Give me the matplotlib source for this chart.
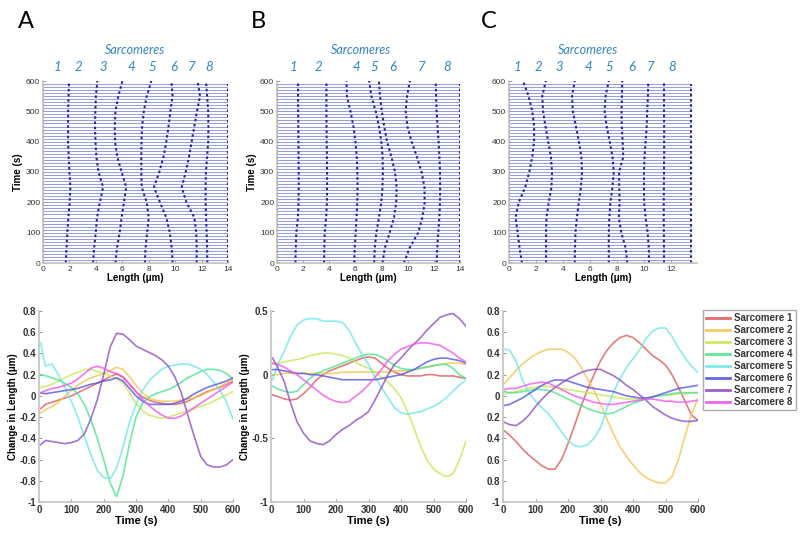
import numpy as np
import matplotlib
matplotlib.use("Agg")
import matplotlib.pyplot as plt

plt.rcParams['font.family'] = ['Liberation Sans', 'DejaVu Sans']

# Z-disc positions (um) read every 50 s
zt = [0, 50, 100, 150, 200, 250, 300, 350, 400, 450, 500, 550, 600]

a_z1 = [1.72, 1.78, 1.84, 1.92, 2.02, 2.07, 2.0, 1.94, 1.9, 1.9, 1.9, 1.93, 1.97]
a_z2 = [3.79, 3.87, 3.99, 4.09, 4.3, 4.55, 4.2, 4.04, 3.97, 3.93, 3.96, 4.0, 4.12]
a_z3 = [5.48, 5.6, 5.8, 5.95, 6.12, 6.3, 5.95, 5.62, 5.45, 5.43, 5.48, 5.7, 6.01]
a_z4 = [7.71, 7.76, 7.88, 8.0, 7.85, 7.47, 7.44, 7.44, 7.45, 7.5, 7.63, 7.85, 8.2]
a_z5 = [9.81, 9.74, 9.6, 9.33, 8.85, 8.4, 8.8, 9.12, 9.33, 9.5, 9.64, 9.8, 9.72]
a_z6 = [11.63, 11.63, 11.6, 11.45, 10.85, 10.5, 10.8, 11.05, 11.25, 11.45, 11.65, 11.88, 11.7]
a_z7 = [12.43, 12.42, 12.38, 12.34, 12.31, 12.3, 12.33, 12.42, 12.5, 12.52, 12.5, 12.42, 12.33]

b_z1 = [1.41, 1.43, 1.48, 1.6, 1.65, 1.66, 1.66, 1.65, 1.64, 1.63, 1.62, 1.61, 1.61]
b_z2 = [3.6, 3.62, 3.65, 3.76, 3.82, 3.83, 3.83, 3.82, 3.8, 3.79, 3.78, 3.78, 3.78]
b_z3 = [5.9, 5.95, 6.02, 6.08, 6.14, 6.16, 6.15, 6.1, 6.0, 5.85, 5.62, 5.35, 5.32]
b_z4 = [7.43, 7.48, 7.6, 7.8, 7.98, 8.07, 8.1, 8.08, 7.98, 7.8, 7.55, 7.22, 7.05]
b_z5 = [8.07, 8.25, 8.62, 8.95, 9.12, 9.15, 9.03, 8.75, 8.42, 8.2, 8.02, 7.88, 7.8]
b_z6 = [9.71, 10.15, 10.8, 11.12, 11.3, 11.28, 11.06, 10.7, 10.3, 9.98, 9.84, 9.95, 10.17]
b_z7 = [12.21, 12.26, 12.34, 12.42, 12.47, 12.48, 12.47, 12.42, 12.36, 12.28, 12.21, 12.17, 12.14]

c_z1 = [0.96, 0.78, 0.64, 0.48, 0.72, 1.2, 1.5, 1.72, 1.85, 1.86, 1.72, 1.45, 1.04]
c_z2 = [2.74, 2.74, 2.74, 2.77, 2.94, 3.14, 3.18, 3.1, 2.9, 2.7, 2.52, 2.46, 2.72]
c_z3 = [4.86, 4.88, 4.91, 5.02, 5.16, 5.32, 5.4, 5.35, 5.17, 4.95, 4.72, 4.66, 4.86]
c_z4 = [7.38, 7.38, 7.38, 7.42, 7.5, 7.65, 7.75, 7.65, 7.45, 7.22, 7.07, 7.14, 7.38]
c_z5 = [8.74, 8.62, 8.3, 8.12, 8.18, 8.15, 8.14, 8.45, 8.4, 8.34, 8.32, 8.35, 8.37]
c_z6 = [10.35, 10.34, 10.25, 10.1, 9.99, 9.98, 9.98, 10.02, 10.1, 10.18, 10.22, 10.27, 10.3]
c_z7 = [11.46, 11.46, 11.45, 11.44, 11.44, 11.45, 11.46, 11.47, 11.47, 11.47, 11.46, 11.46, 11.46]

a_edges = [0, 14]
b_edges = [0, 14]
c_edges = [0, 13.48]

# labels above each top panel
a_nums = ['1', '2', '3', '4', '5', '6', '7', '8']
b_nums = ['1', '2', '4', '5', '6', '7', '8']
c_nums = ['1', '2', '3', '4', '5', '6', '7', '8']

# change in sarcomere length (um)
t = [5, 20, 40, 60, 80, 100, 120, 140, 160, 180, 200, 220, 240, 260, 280, 300,
     320, 340, 360, 380, 400, 420, 440, 460, 480, 500, 520, 540, 560, 580, 600]

a_s1 = [-0.12, -0.08, -0.06, -0.04, -0.02, 0.0, 0.03, 0.06, 0.09, 0.12, 0.15, 0.18, 0.21, 0.18, 0.11, 0.04,
        -0.01, -0.04, -0.06, -0.07, -0.08, -0.08, -0.07, -0.05, -0.02, 0.01, 0.04, 0.06, 0.08, 0.11, 0.14]
a_s2 = [-0.16, -0.13, -0.1, -0.06, 0.0, 0.05, 0.1, 0.14, 0.17, 0.19, 0.21, 0.24, 0.27, 0.25, 0.18, 0.1,
        0.03, -0.02, -0.04, -0.05, -0.05, -0.05, -0.04, -0.03, -0.02, 0.0, 0.03, 0.06, 0.09, 0.12, 0.15]
a_s3 = [0.08, 0.09, 0.11, 0.14, 0.17, 0.2, 0.22, 0.25, 0.25, 0.23, 0.21, 0.19, 0.16, 0.12, 0.03, -0.07,
        -0.14, -0.18, -0.2, -0.21, -0.2, -0.18, -0.16, -0.14, -0.12, -0.1, -0.08, -0.05, -0.02, 0.01, 0.04]
a_s4 = [0.2, 0.19, 0.17, 0.15, 0.12, 0.08, 0.02, -0.08, -0.22, -0.4, -0.6, -0.82, -0.95, -0.75, -0.45, -0.2,
        -0.07, -0.01, 0.02, 0.04, 0.06, 0.09, 0.13, 0.17, 0.2, 0.23, 0.25, 0.25, 0.24, 0.21, 0.16]
a_s5 = [0.5, 0.28, 0.3, 0.2, 0.08, -0.05, -0.2, -0.38, -0.55, -0.7, -0.77, -0.78, -0.68, -0.48, -0.25, -0.08,
        0.05, 0.14, 0.2, 0.25, 0.28, 0.29, 0.3, 0.3, 0.28, 0.25, 0.2, 0.13, 0.05, -0.06, -0.22]
a_s6 = [0.03, 0.02, 0.03, 0.04, 0.05, 0.06, 0.07, 0.09, 0.11, 0.12, 0.14, 0.15, 0.17, 0.14, 0.07, 0.0,
        -0.05, -0.08, -0.08, -0.08, -0.08, -0.07, -0.05, -0.02, 0.02, 0.05, 0.08, 0.1, 0.12, 0.14, 0.17]
a_s7 = [-0.46, -0.42, -0.43, -0.44, -0.45, -0.44, -0.42, -0.36, -0.22, -0.04, 0.2, 0.46, 0.59, 0.58, 0.53, 0.47,
        0.44, 0.41, 0.38, 0.34, 0.28, 0.18, 0.03, -0.18, -0.38, -0.57, -0.65, -0.67, -0.67, -0.65, -0.6]
a_s8 = [0.03, 0.05, 0.07, 0.08, 0.1, 0.12, 0.16, 0.21, 0.26, 0.28, 0.26, 0.23, 0.21, 0.17, 0.11, 0.04,
        -0.03, -0.09, -0.14, -0.18, -0.21, -0.21, -0.19, -0.15, -0.11, -0.07, -0.03, 0.01, 0.05, 0.09, 0.13]

b_s1 = [-0.16, -0.17, -0.19, -0.2, -0.19, -0.15, -0.1, -0.04, 0.0, 0.03, 0.05, 0.07, 0.09, 0.11, 0.13, 0.14,
        0.13, 0.09, 0.05, 0.02, 0.0, -0.01, -0.01, -0.01, 0.0, 0.0, -0.01, -0.01, -0.01, -0.02, -0.03]
b_s2 = [0.0, 0.0, 0.01, 0.01, 0.01, 0.01, 0.01, 0.01, 0.01, 0.01, 0.01, 0.02, 0.02, 0.02, 0.02, 0.02,
        0.02, 0.02, 0.02, 0.03, 0.03, 0.03, 0.04, 0.05, 0.06, 0.07, 0.08, 0.09, 0.09, 0.09, 0.08]
b_s3 = [0.08, 0.09, 0.1, 0.11, 0.12, 0.13, 0.15, 0.16, 0.17, 0.17, 0.16, 0.15, 0.13, 0.1, 0.07, 0.05,
        0.02, -0.02, -0.06, -0.11, -0.18, -0.29, -0.42, -0.56, -0.67, -0.74, -0.78, -0.8, -0.78, -0.67, -0.52]
b_s4 = [-0.09, -0.11, -0.13, -0.14, -0.13, -0.08, -0.03, 0.01, 0.03, 0.05, 0.07, 0.09, 0.11, 0.13, 0.15, 0.16,
        0.16, 0.14, 0.11, 0.07, 0.05, 0.04, 0.04, 0.05, 0.06, 0.07, 0.08, 0.08, 0.05, 0.0, -0.03]
b_s5 = [-0.04, 0.08, 0.18, 0.3, 0.39, 0.43, 0.44, 0.44, 0.42, 0.42, 0.42, 0.41, 0.35, 0.25, 0.16, 0.08,
        -0.02, -0.1, -0.18, -0.26, -0.3, -0.31, -0.3, -0.29, -0.27, -0.25, -0.22, -0.18, -0.13, -0.08, -0.04]
b_s6 = [0.04, 0.04, 0.03, 0.02, 0.01, 0.01, 0.0, 0.0, -0.01, -0.02, -0.03, -0.04, -0.04, -0.04, -0.04, -0.04,
        -0.04, -0.03, -0.02, -0.01, 0.0, 0.02, 0.04, 0.07, 0.1, 0.12, 0.13, 0.13, 0.12, 0.11, 0.09]
b_s7 = [0.13, 0.06, -0.05, -0.22, -0.37, -0.46, -0.52, -0.54, -0.55, -0.52, -0.47, -0.43, -0.4, -0.36, -0.33, -0.29,
        -0.2, -0.1, 0.0, 0.08, 0.13, 0.19, 0.24, 0.29, 0.35, 0.4, 0.45, 0.47, 0.48, 0.44, 0.38]
b_s8 = [0.09, 0.08, 0.06, 0.03, 0.0, -0.04, -0.08, -0.12, -0.16, -0.19, -0.21, -0.22, -0.21, -0.17, -0.13, -0.08,
        -0.02, 0.04, 0.11, 0.16, 0.2, 0.22, 0.24, 0.25, 0.25, 0.24, 0.23, 0.2, 0.17, 0.13, 0.1]

c_s1 = [-0.33, -0.37, -0.43, -0.5, -0.56, -0.61, -0.66, -0.69, -0.69, -0.6, -0.45, -0.28, -0.1, 0.06, 0.2, 0.33,
        0.43, 0.5, 0.55, 0.57, 0.55, 0.5, 0.44, 0.38, 0.34, 0.29, 0.2, 0.08, -0.05, -0.18, -0.23]
c_s2 = [0.12, 0.17, 0.24, 0.3, 0.35, 0.39, 0.42, 0.44, 0.44, 0.44, 0.41, 0.36, 0.27, 0.16, 0.05, -0.08,
        -0.22, -0.36, -0.48, -0.57, -0.65, -0.72, -0.77, -0.8, -0.82, -0.82, -0.76, -0.6, -0.38, -0.17, -0.03]
c_s3 = [0.02, 0.03, 0.04, 0.06, 0.07, 0.08, 0.09, 0.09, 0.08, 0.07, 0.06, 0.05, 0.04, 0.03, 0.02, 0.01,
        0.0, -0.01, -0.02, -0.03, -0.03, -0.03, -0.02, -0.01, 0.0, 0.01, 0.01, 0.02, 0.02, 0.03, 0.03]
c_s4 = [0.04, 0.03, 0.03, 0.04, 0.05, 0.06, 0.06, 0.05, 0.03, 0.0, -0.03, -0.06, -0.09, -0.12, -0.14, -0.16,
        -0.17, -0.16, -0.13, -0.1, -0.07, -0.05, -0.03, -0.01, 0.0, 0.01, 0.02, 0.03, 0.03, 0.03, 0.03]
c_s5 = [0.44, 0.43, 0.33, 0.15, 0.03, -0.05, -0.11, -0.17, -0.25, -0.34, -0.42, -0.47, -0.48, -0.46, -0.4, -0.3,
        -0.12, 0.04, 0.16, 0.27, 0.35, 0.43, 0.54, 0.61, 0.64, 0.64, 0.56, 0.45, 0.36, 0.28, 0.22]
c_s6 = [-0.09, -0.08, -0.05, -0.02, 0.02, 0.06, 0.1, 0.13, 0.15, 0.15, 0.14, 0.12, 0.1, 0.08, 0.07, 0.06,
        0.05, 0.04, 0.02, 0.0, -0.01, -0.02, -0.02, -0.01, 0.01, 0.03, 0.05, 0.07, 0.08, 0.09, 0.1]
c_s7 = [-0.25, -0.27, -0.28, -0.24, -0.18, -0.1, -0.03, 0.03, 0.08, 0.12, 0.16, 0.19, 0.22, 0.24, 0.25, 0.25,
        0.22, 0.19, 0.15, 0.1, 0.06, 0.01, -0.04, -0.1, -0.14, -0.18, -0.21, -0.23, -0.24, -0.24, -0.23]
c_s8 = [0.06, 0.07, 0.07, 0.09, 0.11, 0.12, 0.13, 0.12, 0.09, 0.06, 0.03, 0.0, -0.02, -0.04, -0.06, -0.07,
        -0.08, -0.08, -0.07, -0.06, -0.05, -0.04, -0.03, -0.03, -0.04, -0.05, -0.05, -0.06, -0.06, -0.05, -0.04]

legend_labels = ['Sarcomere %d' % (i + 1) for i in range(8)]
colors = ['#de5b5b', '#f3c552', '#c9e655', '#4ee38f', '#6fe6e6', '#5656e6', '#8e4fc2', '#ef55ef']

W, H = 800, 537
fig = plt.figure(figsize=(W / 100, H / 100), dpi=100)


def box(x0, y0, x1, y1):
    return [x0 / W, 1 - y1 / H, (x1 - x0) / W, (y1 - y0) / H]


def style(ax, size, bold):
    for s in ['top', 'right']:
        ax.spines[s].set_visible(False)
    for s in ['left', 'bottom']:
        ax.spines[s].set_color('#c4c4bc')
        ax.spines[s].set_linewidth(1.2)
    ax.tick_params(direction='in', length=2, width=0.6, color='#888888',
                   labelsize=size, labelcolor='#333333', pad=2)
    if bold:
        for lab in ax.get_xticklabels() + ax.get_yticklabels():
            lab.set_fontweight('bold')


# ---- top panels
tops = [
    (box(43, 81, 228, 263), [a_z1, a_z2, a_z3, a_z4, a_z5, a_z6, a_z7], a_edges, 14, range(0, 15, 2)),
    (box(277, 81, 460, 263), [b_z1, b_z2, b_z3, b_z4, b_z5, b_z6, b_z7], b_edges, 14, range(0, 15, 2)),
    (box(509, 81, 697, 263), [c_z1, c_z2, c_z3, c_z4, c_z5, c_z6, c_z7], c_edges, 13.9, range(0, 13, 2)),
]
rows = np.arange(0, 600, 10)
zline = dict(color='#24248f', linestyle=(0, (1.2, 1.3)), linewidth=1.5)
for i, (rect, zs, edges, xmax, xt) in enumerate(tops):
    ax = fig.add_axes(rect)
    ax.hlines(rows, edges[0], edges[1], color='#9a9ee2', linewidth=0.75)
    for e in edges:
        ax.plot([e, e], [0, 590], **zline)
    for z in zs:
        ax.plot(z, zt, **zline)
    ax.set_xlim(0, xmax)
    ax.set_ylim(0, 600)
    ax.set_xticks(list(xt))
    ax.set_yticks(range(0, 601, 100))
    style(ax, 6, False)
    ax.set_xlabel('Length (\u03bcm)', fontsize=7, fontweight='bold', labelpad=0)
    if i < 2:
        ax.set_ylabel('Time (s)', fontsize=7, fontweight='bold', labelpad=2)

# ---- bottom panels
bottoms = [
    (box(39, 311, 233, 502), [a_s1, a_s2, a_s3, a_s4, a_s5, a_s6, a_s7, a_s8], (-1, 0.8),
     np.arange(-1, 0.81, 0.2), ['-1', '-0.8', '-0.6', '-0.4', '-0.2', '0', '0.2', '0.4', '0.6', '0.8']),
    (box(271, 311, 466, 502), [b_s1, b_s2, b_s3, b_s4, b_s5, b_s6, b_s7, b_s8], (-1, 0.5),
     [-1, -0.5, 0, 0.5], ['-1', '-0.5', '0', '0.5']),
    (box(503, 311, 698, 502), [c_s1, c_s2, c_s3, c_s4, c_s5, c_s6, c_s7, c_s8], (-1, 0.8),
     np.arange(-1, 0.81, 0.2), ['-1', '0.8', '0.6', '0.4', '0.2', '0', '0.2', '0.4', '0.6', '0.8']),
]
for i, (rect, series, ylim, yt, ylab) in enumerate(bottoms):
    ax = fig.add_axes(rect)
    for j, s in enumerate(series):
        ax.plot(t, s, color=colors[j], linewidth=1.2, alpha=0.8, label=legend_labels[j])
    ax.set_xlim(0, 600)
    ax.set_ylim(*ylim)
    ax.set_xticks(range(0, 601, 100))
    ax.set_yticks(yt)
    ax.set_yticklabels(ylab)
    style(ax, 7, True)
    ax.set_xlabel('Time (s)', fontsize=8, fontweight='bold', labelpad=1)
    if i < 2:
        ax.set_ylabel('Change in Length (\u03bcm)', fontsize=7, fontweight='bold', labelpad=1)
    if i == 2:
        leg = ax.legend(loc='upper left', bbox_to_anchor=(703 / W, 1 - 310 / H),
                        bbox_transform=fig.transFigure, fontsize=7, frameon=True,
                        fancybox=False, edgecolor='#999999', handlelength=2.4,
                        borderpad=0.35, labelspacing=0.2, handletextpad=0.4, borderaxespad=0)
        for txt in leg.get_texts():
            txt.set_fontweight('bold')
            txt.set_color('#333333')
        for ln in leg.get_lines():
            ln.set_linewidth(2)
            ln.set_alpha(0.9)

# panel letters and sarcomere labels
for letter, x in [('A', 26), ('B', 258), ('C', 489)]:
    fig.text(x / W, 1 - 22 / H, letter, fontsize=17, family='Lato', ha='center', va='center')

for cx in [135, 361, 588]:
    fig.text(cx / W, 1 - 50 / H, 'Sarcomeres', fontsize=9, family='Lato', style='italic',
             color='#2f86c2', ha='center', va='center')

a_x = [57, 78, 103, 131, 152, 174, 192, 209]
b_x = [293, 318, 356, 374, 393, 422, 447]
c_x = [517, 538, 559, 588, 609, 632, 651, 672]
for xs, nums in [(a_x, a_nums), (b_x, b_nums), (c_x, c_nums)]:
    for x, n in zip(xs, nums):
        fig.text(x / W, 1 - 67 / H, n, fontsize=9.5, family='Lato', style='italic',
                 color='#2f86c2', ha='center', va='center')

fig.savefig('out.png', dpi=100)
